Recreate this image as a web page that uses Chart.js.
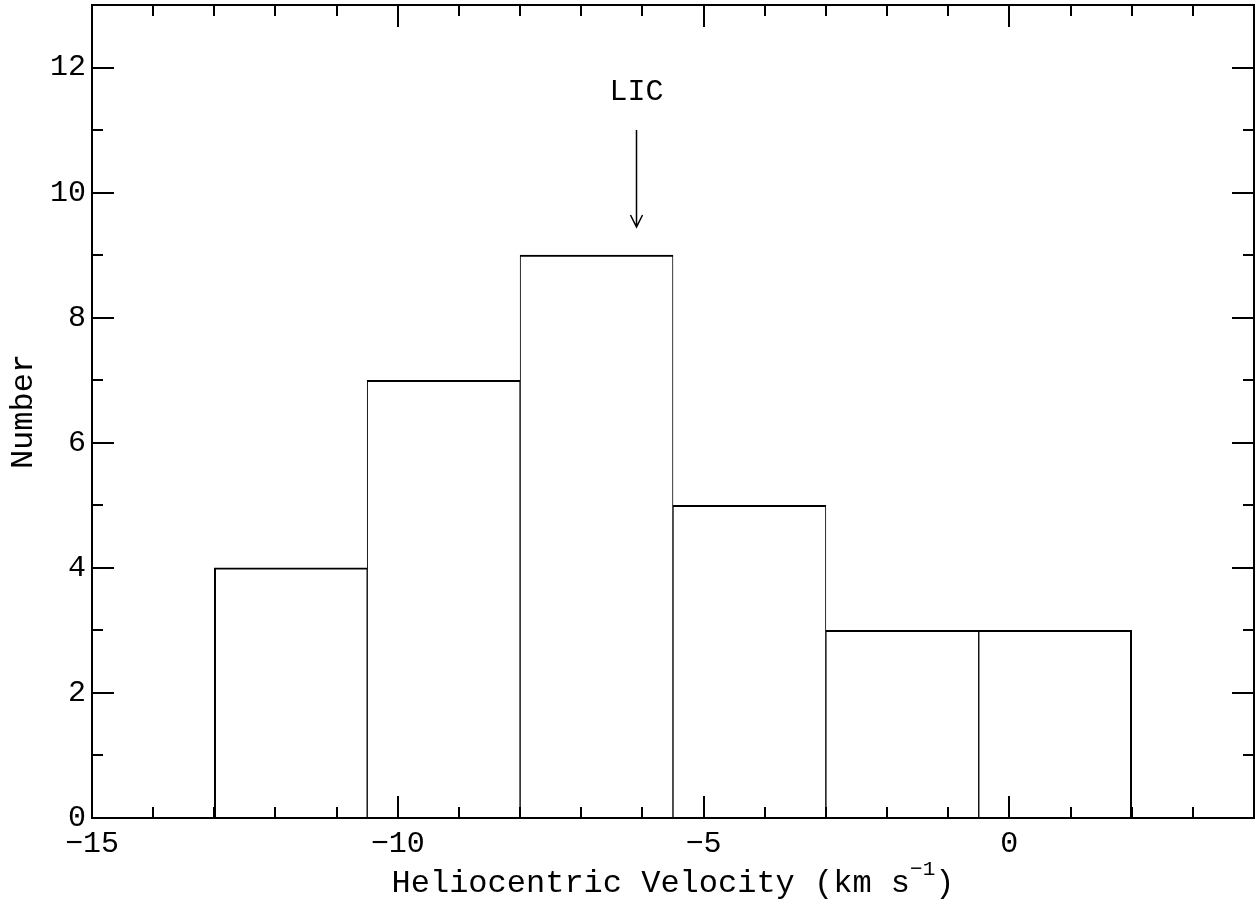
<!DOCTYPE html>
<html>
<head>
<meta charset="utf-8">
<script src="https://cdn.jsdelivr.net/npm/chart.js@4/dist/chart.umd.min.js"></script>
<style>
    html, body { margin: 0; padding: 0; background: #fff; }
    #wrap { width: 1257px; height: 909px; }
</style>
</head>
<body>
<div id="wrap"><canvas id="Chart1" width="1257" height="909"></canvas></div>
<script>
// histogram bins (km/s) and counts
var binEdges = [-13, -10.5, -8, -5.5, -3, -0.5, 2];
var counts = [4, 7, 9, 5, 3, 3];

var xTicks = [-15, -10, -5, 0];
var yTicks = [0, 2, 4, 6, 8, 10, 12];

// LIC arrow annotation
var licLabel = 'LIC';
var licX = -6.1;
var licArrowTop = 11.0;
var licArrowTip = 9.45;
var licTextY = 11.6;

var monoFont = '"Liberation Mono", "Courier New", monospace';

var barData = [];
for (var i = 0; i < counts.length; i++) {
    barData.push({ x: (binEdges[i] + binEdges[i + 1]) / 2, y: counts[i] });
}

function minusSign(v) {
    return String(v).replace('-', '\u2212');
}

var framePlugin = {
    id: 'frame',
    afterDraw: function (chart) {
        var ctx = chart.ctx;
        var xs = chart.scales.x;
        var ys = chart.scales.y;
        var a = chart.chartArea;
        var major = 22, minor = 11;

        ctx.save();
        ctx.strokeStyle = '#000';
        ctx.lineWidth = 2;
        ctx.strokeRect(a.left, a.top, a.right - a.left, a.bottom - a.top);

        ctx.beginPath();
        for (var v = xs.min; v <= xs.max; v++) {
            var px = Math.round(xs.getPixelForValue(v));
            var len = (v % 5 === 0) ? major : minor;
            ctx.moveTo(px, a.bottom); ctx.lineTo(px, a.bottom - len);
            ctx.moveTo(px, a.top); ctx.lineTo(px, a.top + len);
        }
        for (var w = ys.min; w <= ys.max; w++) {
            var py = Math.round(ys.getPixelForValue(w));
            var l2 = (w % 2 === 0) ? major : minor;
            ctx.moveTo(a.left, py); ctx.lineTo(a.left + l2, py);
            ctx.moveTo(a.right, py); ctx.lineTo(a.right - l2, py);
        }
        ctx.stroke();

        // arrow
        var ax = Math.round(xs.getPixelForValue(licX)) + 0.5;
        var y1 = ys.getPixelForValue(licArrowTop);
        var y2 = ys.getPixelForValue(licArrowTip);
        ctx.lineWidth = 1.5;
        ctx.beginPath();
        ctx.moveTo(ax, y1); ctx.lineTo(ax, y2);
        ctx.moveTo(ax - 6, y2 - 12); ctx.lineTo(ax, y2); ctx.lineTo(ax + 6, y2 - 12);
        ctx.stroke();

        ctx.fillStyle = '#000';
        ctx.font = '30px ' + monoFont;
        ctx.textAlign = 'center';
        ctx.textBaseline = 'middle';
        ctx.fillText(licLabel, ax, ys.getPixelForValue(licTextY));

        // axis titles
        ctx.font = '32px ' + monoFont;
        ctx.textBaseline = 'alphabetic';
        var main = 'Heliocentric Velocity (km s';
        var sup = '\u22121';
        var close = ')';
        var wMain = ctx.measureText(main).width;
        ctx.font = '21px ' + monoFont;
        var wSup = ctx.measureText(sup).width;
        ctx.font = '32px ' + monoFont;
        var wClose = ctx.measureText(close).width;
        var total = wMain + wSup + wClose;
        var cx = (a.left + a.right) / 2;
        var sx = cx - total / 2;
        var by = 892;
        ctx.textAlign = 'left';
        ctx.fillText(main, sx, by);
        ctx.font = '21px ' + monoFont;
        ctx.fillText(sup, sx + wMain, by - 17);
        ctx.font = '32px ' + monoFont;
        ctx.fillText(close, sx + wMain + wSup, by);

        ctx.translate(24, (a.top + a.bottom) / 2);
        ctx.rotate(-Math.PI / 2);
        ctx.textAlign = 'center';
        ctx.textBaseline = 'middle';
        ctx.fillText('Number', 0, 0);
        ctx.restore();
    }
};

var ctx1 = document.getElementById('Chart1');
var crt1 = new Chart(ctx1, {
    type: 'bar',
    data: {
        datasets: [{
            data: barData,
            backgroundColor: '#fff',
            borderColor: '#000',
            borderWidth: function (c) {
                return {
                    top: 2,
                    left: c.dataIndex === 0 ? 2 : 1,
                    right: c.dataIndex === counts.length - 1 ? 2 : 1,
                    bottom: 0
                };
            },
            borderSkipped: false,
            barPercentage: 1,
            categoryPercentage: 1
        }]
    },
    options: {
        responsive: false,
        animation: false,
        layout: { padding: { top: 5, right: 3, left: 0, bottom: 0 } },
        plugins: {
            legend: { display: false },
            tooltip: { enabled: false }
        },
        scales: {
            x: {
                type: 'linear',
                min: -15,
                max: 4,
                offset: false,
                grid: { display: false, drawTicks: false, offset: false },
                border: { display: false },
                afterBuildTicks: function (scale) {
                    scale.ticks = xTicks.map(function (v) { return { value: v }; });
                },
                afterFit: function (scale) {
                    scale.height = 91;
                    scale.paddingLeft = 0;
                    scale.paddingRight = 0;
                },
                ticks: {
                    padding: 8,
                    color: '#000',
                    maxRotation: 0,
                    font: { family: monoFont, size: 30 },
                    callback: function (value) { return minusSign(value); }
                }
            },
            y: {
                min: 0,
                max: 13,
                grid: { display: false, drawTicks: false },
                border: { display: false },
                afterBuildTicks: function (scale) {
                    scale.ticks = yTicks.map(function (v) { return { value: v }; });
                },
                afterFit: function (scale) {
                    scale.width = 92;
                    scale.paddingTop = 0;
                    scale.paddingBottom = 0;
                },
                ticks: {
                    padding: 6,
                    color: '#000',
                    font: { family: monoFont, size: 30 },
                    callback: function (value) { return String(value); }
                }
            }
        }
    },
    plugins: [framePlugin]
});
</script>
</body>
</html>
